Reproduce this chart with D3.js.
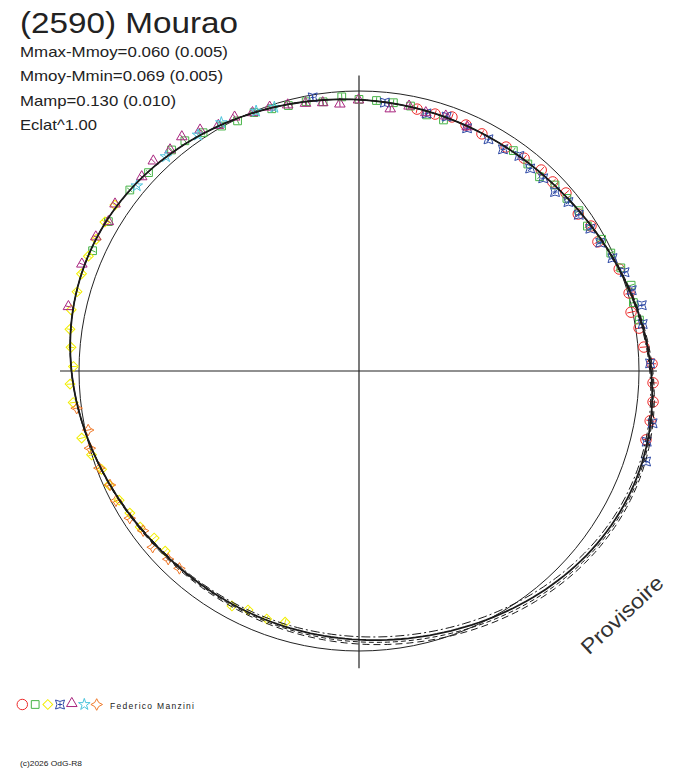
<!DOCTYPE html>
<html>
<head>
<meta charset="utf-8">
<script src="https://cdn.jsdelivr.net/npm/d3@7"></script>
<style>
  body { margin: 0; background: #fff; }
  svg { display: block; }
  text { font-family: "Liberation Sans", Arial, sans-serif; }
</style>
</head>
<body>
<svg id="polar-plot" width="688" height="768"></svg>
<script>
// rotational phase in degrees (0 = top, clockwise) and relative flux (1 = reference circle)
let phaseRed = [12.5, 16.5, 20.1, 23.5, 27.4, 33.3, 37.8, 42.2, 45.7, 49.3, 54.4, 58.0, 61.6, 68.6, 73.9, 77.8, 81.3, 85.2, 88.6, 92.3, 96.0, 99.7, 103.5]
let fluxRed = [0.958, 0.957, 0.966, 0.958, 0.954, 0.957, 0.962, 0.969, 0.967, 0.975, 0.963, 0.977, 0.970, 0.998, 1.004, 0.994, 1.012, 1.021, 1.047, 1.051, 1.056, 1.055, 1.054]

let phaseGreen = [294.3, 300.8, 308.3, 313.3, 319.7, 322.9, 326.8, 330.7, 334.1, 337.9, 341.6, 345.1, 348.9, 352.4, 356.4, 0.0, 3.7, 7.3, 11.0, 14.8, 18.6, 35.0, 39.2, 42.9, 46.5, 50.3, 53.9, 57.6, 61.5, 64.9, 68.5, 72.5, 76.0, 79.7]
let fluxGreen = [1.044, 1.042, 1.043, 1.033, 1.035, 1.031, 1.017, 1.003, 0.993, 0.996, 0.987, 0.981, 0.980, 0.970, 0.981, 0.970, 0.968, 0.966, 0.964, 0.946, 0.946, 0.961, 0.954, 0.947, 0.965, 0.965, 0.972, 0.966, 0.986, 0.993, 1.005, 1.019, 1.010, 1.018]

let phaseYellow = [304.2, 300.4, 296.6, 293.0, 289.3, 285.7, 282.0, 278.2, 274.7, 270.9, 267.4, 263.7, 256.4, 252.6, 249.1, 245.5, 241.7, 238.2, 234.5, 230.8, 227.1, 208.4, 204.9, 200.4, 196.4]
let fluxYellow = [1.054, 1.052, 1.050, 1.050, 1.050, 1.046, 1.051, 1.043, 1.032, 1.020, 1.033, 1.027, 1.019, 1.001, 0.984, 0.981, 0.973, 0.963, 0.960, 0.944, 0.945, 0.954, 0.941, 0.945, 0.935]

let phaseBlue = [350.4, 5.5, 14.7, 19.0, 24.0, 29.2, 33.0, 36.7, 40.2, 43.7, 47.6, 51.1, 54.6, 58.4, 62.0, 66.0, 69.6, 73.5, 76.9, 80.6, 88.5, 100.1, 103.8, 107.5]
let fluxBlue = [0.991, 0.963, 0.951, 0.961, 0.949, 0.948, 0.944, 0.958, 0.947, 0.952, 0.948, 0.961, 0.963, 0.970, 0.976, 0.991, 1.012, 1.016, 1.037, 1.027, 1.040, 1.065, 1.058, 1.075]

let phasePurple = [282.5, 291.1, 297.0, 300.8, 304.4, 311.8, 315.6, 319.5, 322.9, 326.6, 330.2, 333.9, 337.6, 341.3, 345.0, 348.7, 352.3, 355.9, 359.9, 6.8, 10.7, 14.5, 18.8, 23.9]
let fluxPurple = [1.063, 1.061, 1.055, 1.042, 1.056, 1.041, 1.050, 1.039, 1.049, 1.031, 1.011, 1.010, 0.998, 0.995, 0.984, 0.975, 0.967, 0.956, 0.968, 0.943, 0.963, 0.953, 0.962, 0.954]

let phaseCyan = [309.8, 318.0, 325.7, 331.0, 338.4, 342.2]
let fluxCyan = [1.033, 1.030, 1.020, 1.014, 0.998, 0.989]

let phaseOrange = [262.5, 257.7, 254.0, 249.5, 245.4, 241.9, 237.3, 233.5, 229.5, 225.4, 222.3]
let fluxOrange = [1.017, 0.990, 1.000, 0.990, 0.978, 0.984, 0.973, 0.959, 0.969, 0.957, 0.953]

let fluxErrors = [0.014, 0.012, 0.012, 0.012, 0.010, 0.010, 0.012]

// fourier fits: [a0, a1, b1, a2, b2, a3, b3, a4, b4]
let fitMain = [0.99761, 0.00368, 0.00596, -0.03529, -0.03846, 0.00089, -0.00214, 0.00196, 0.00689]
let fitAltA = [1.00319, -0.00391, 0.00950, -0.03314, -0.04102, 0.00075, -0.00160, 0.00196, 0.00689]
let fitAltB = [0.99370, 0.00899, 0.00348, -0.03680, -0.03666, 0.00099, -0.00252, 0.00196, 0.00689]
let fitAltC = [1.00040, -0.00011, 0.00773, -0.03421, -0.03974, 0.00082, -0.00187, 0.00196, 0.00689]

let infoLines = ["Mmax-Mmoy=0.060 (0.005)", "Mmoy-Mmin=0.069 (0.005)", "Mamp=0.130 (0.010)", "Eclat^1.00"]

let svg = d3.select("#polar-plot")
svg.append("rect").attr("width", 688).attr("height", 768).attr("fill", "white")

let cx = 359, cy = 371
let r = d3.scaleLinear().domain([0, 1]).range([0, 280])
let ang = d3.scaleLinear().domain([0, 360]).range([0, 2 * Math.PI])

let plot = svg.append("g").attr("transform", `translate(${cx},${cy})`)

// axes
plot.append("line")
    .attr("x1", -r(1.068)).attr("x2", r(1.064))
    .attr("y1", 0).attr("y2", 0)
    .style("stroke", "#222").style("stroke-width", 1.2)
plot.append("line")
    .attr("x1", 0).attr("x2", 0)
    .attr("y1", -r(1.055)).attr("y2", r(1.062))
    .style("stroke", "#222").style("stroke-width", 1.2)

// reference circle
plot.append("circle")
    .attr("r", r(1))
    .style("fill", "none").style("stroke", "#222").style("stroke-width", 1)

// data
let symCircle = d3.symbol(d3.symbolCircle, 86)()
let symSquare = d3.symbol(d3.symbolSquare, 60)()
let symDiamond = d3.symbol(d3.symbolSquare, 48)()
let symTriangle = d3.symbol(d3.symbolTriangle, 48)()
let symStar = d3.symbol(d3.symbolStar, 42)()
let symCross4 = "M-4.5,-4.5Q0,-1.6 4.5,-4.5Q1.6,0 4.5,4.5Q0,1.6 -4.5,4.5Q-1.6,0 -4.5,-4.5ZM-2,0H2M0,-2V2"
let symStar4 = "M0,-5.8Q1.1,-1.1 5.8,0Q1.1,1.1 0,5.8Q-1.1,1.1 -5.8,0Q-1.1,-1.1 0,-5.8Z"

let sessions = [
    { ph: phaseRed, fl: fluxRed, path: symCircle, rot: 0, color: "#ee2a2a" },
    { ph: phaseGreen, fl: fluxGreen, path: symSquare, rot: 0, color: "#46b446" },
    { ph: phaseYellow, fl: fluxYellow, path: symDiamond, rot: 45, color: "#f2ee00" },
    { ph: phaseBlue, fl: fluxBlue, path: symCross4, rot: 0, color: "#2f4aa6" },
    { ph: phasePurple, fl: fluxPurple, path: symTriangle, rot: 0, color: "#a8247e" },
    { ph: phaseCyan, fl: fluxCyan, path: symStar, rot: 0, color: "#4cc4dc" },
    { ph: phaseOrange, fl: fluxOrange, path: symStar4, rot: 0, color: "#f07a2a" }
]
sessions.forEach((s, i) => {
    s.err = fluxErrors[i]
    s.points = s.ph.map((p, j) => ({ ph: p, fl: s.fl[j] }))
})

sessions.forEach(s => {
    let grp = plot.append("g")
    grp.selectAll(".err")
        .data(s.points)
        .join("line")
        .attr("class", "err")
        .each(function(d) {
            let p1 = d3.pointRadial(ang(d.ph), r(d.fl - s.err))
            let p2 = d3.pointRadial(ang(d.ph), r(d.fl + s.err))
            d3.select(this).attr("x1", p1[0]).attr("y1", p1[1]).attr("x2", p2[0]).attr("y2", p2[1])
        })
        .style("stroke", s.color).style("stroke-width", 1)
    grp.selectAll(".mark")
        .data(s.points)
        .join("path")
        .attr("class", "mark")
        .attr("d", s.path)
        .attr("transform", d => {
            let p = d3.pointRadial(ang(d.ph), r(d.fl))
            return `translate(${p[0]},${p[1]}) rotate(${s.rot})`
        })
        .style("fill", "none").style("stroke", s.color).style("stroke-width", 1)
})

// fit curves
function fourier(c, deg) {
    let t = ang(deg)
    let v = c[0]
    for (let k = 1; k <= 4; k++) {
        v += c[2 * k - 1] * Math.cos(k * t) + c[2 * k] * Math.sin(k * t)
    }
    return v
}
let samples = d3.range(0, 361, 1.5)
let fitLine = d3.lineRadial()
    .angle(d => ang(d.ph))
    .radius(d => r(d.fl))

let fits = [
    { c: fitAltA, dash: "7,4", w: 1 },
    { c: fitAltB, dash: "9,3,2,3", w: 1 },
    { c: fitAltC, dash: "5,3", w: 1 },
    { c: fitMain, dash: null, w: 1.8 }
]
fits.forEach(f => {
    plot.append("path")
        .attr("d", fitLine(samples.map(p => ({ ph: p, fl: fourier(f.c, p) }))))
        .style("fill", "none")
        .style("stroke", "#1a1a1a")
        .style("stroke-width", f.w)
        .style("stroke-dasharray", f.dash)
})

// texts
svg.append("text")
    .attr("x", 20).attr("y", 33)
    .attr("textLength", 218).attr("lengthAdjust", "spacingAndGlyphs")
    .style("font-size", "30px").style("fill", "#222")
    .text("(2590) Mourao")

let infoWidths = [208, 203, 156, 77]
svg.selectAll(".info")
    .data(infoLines)
    .join("text")
    .attr("class", "info")
    .attr("x", 20)
    .attr("y", (d, i) => 56.5 + i * 24.5)
    .attr("textLength", (d, i) => infoWidths[i])
    .attr("lengthAdjust", "spacingAndGlyphs")
    .style("font-size", "15px").style("fill", "#222")
    .text(d => d)

svg.append("text")
    .attr("transform", "translate(627,620) rotate(-43)")
    .attr("text-anchor", "middle")
    .attr("textLength", 104).attr("lengthAdjust", "spacingAndGlyphs")
    .style("font-size", "21px").style("fill", "#333")
    .text("Provisoire")

// legend
let legendX = [22.3, 35.2, 47.8, 60, 71.8, 84.3, 96.7]
sessions.forEach((s, i) => {
    svg.append("path")
        .attr("d", s.path)
        .attr("transform", `translate(${legendX[i]},${i == 4 ? 703.5 : 704.5}) rotate(${s.rot})`)
        .style("fill", "none").style("stroke", s.color).style("stroke-width", 1)
})
svg.append("text")
    .attr("x", 110).attr("y", 708.5)
    .attr("textLength", 84).attr("lengthAdjust", "spacing")
    .style("font-size", "8.5px").style("fill", "#222")
    .text("Federico Manzini")

svg.append("text")
    .attr("x", 20).attr("y", 766)
    .attr("textLength", 62).attr("lengthAdjust", "spacingAndGlyphs")
    .style("font-size", "8px").style("fill", "#222")
    .text("(c)2026 OdG-R8")
</script>
</body>
</html>
